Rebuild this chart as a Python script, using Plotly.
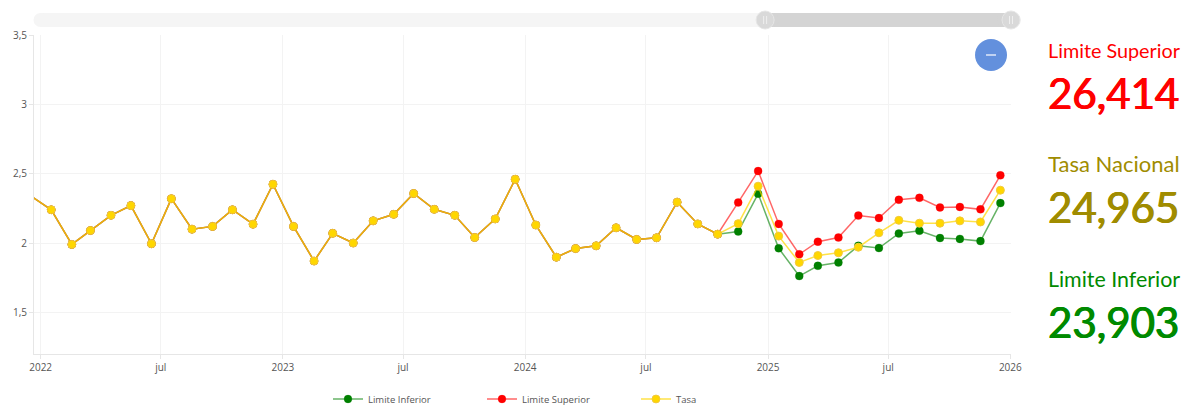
import plotly.graph_objects as go

# Monthly observations, Dec 2021 to Dec 2025
months = [f"{y}-{m:02d}-17" for y in (2022, 2023, 2024, 2025) for m in range(1, 13)]
months = ["2021-12-17"] + months

history = [2.34,
    2.24, 1.99, 2.09, 2.20, 2.27, 1.995, 2.32, 2.10, 2.12, 2.24, 2.136, 2.424,
    2.12, 1.87, 2.07, 2.00, 2.16, 2.207, 2.357, 2.243, 2.20, 2.04, 2.174, 2.46,
    2.13, 1.898, 1.96, 1.98, 2.11, 2.026, 2.038, 2.295, 2.138, 2.064]

tasa_tail = [2.14, 2.41, 2.05, 1.86, 1.91, 1.93, 1.97, 2.074, 2.164, 2.143, 2.143, 2.16, 2.152, 2.381]
sup_tail = [2.293, 2.519, 2.138, 1.919, 2.01, 2.04, 2.198, 2.18, 2.312, 2.326, 2.257, 2.26, 2.243, 2.488]
inf_tail = [2.083, 2.355, 1.962, 1.762, 1.836, 1.86, 1.98, 1.964, 2.069, 2.088, 2.036, 2.03, 2.014, 2.288]

tasa = history + tasa_tail
superior = history + sup_tail
inferior = history + inf_tail

x_ticks = ["2022-01-01", "2022-07-01", "2023-01-01", "2023-07-01", "2024-01-01", "2024-07-01",
           "2025-01-01", "2025-07-01", "2026-01-01"]
x_labels = ["2022", "jul", "2023", "jul", "2024", "jul", "2025", "jul", "2026"]
y_ticks = [1.5, 2, 2.5, 3, 3.5]
y_labels = ["1,5", "2", "2,5", "3", "3,5"]

kpis = [("Limite Superior", "26,414", "#ff0000"),
        ("Tasa Nacional", "24,965", "#a08c00"),
        ("Limite Inferior", "23,903", "#008a00")]
kpi_label_sizes = [19.8, 22, 21.4]

fig = go.Figure()
sizes = [0] + [8] * (len(months) - 1)
series = [("Limite Inferior", inferior, "0,128,0", "#008000", 0.6, "rgba(0,128,0,0.25)"),
          ("Limite Superior", superior, "255,0,0", "#ff0000", 0.6, "rgba(255,0,0,0.25)"),
          ("Tasa", tasa, "255,215,0", "#ffd700", 0.72, "#f2c93c")]
for name, vals, rgb, solid, alpha, edge in series:
    fig.add_trace(go.Scatter(
        x=months, y=vals, name=name, mode="lines+markers",
        line=dict(color=f"rgba({rgb},{alpha})", width=1.5),
        marker=dict(color=solid, size=sizes, opacity=1, line=dict(color=edge, width=1)),
    ))

W, H = 1181, 405
L, R, T, B = 33.5, 1011, 35, 354
def px(v): return (v - L) / (R - L)
def py(v): return (B - v) / (B - T)

def circle(cx, cy, r, fill, line="rgba(0,0,0,0)"):
    return dict(type="circle", xref="paper", yref="paper", x0=px(cx - r), x1=px(cx + r),
                y0=py(cy + r), y1=py(cy - r), fillcolor=fill, line=dict(color=line, width=1))

def pill(x0, x1, y0, y1, color):
    r = (y1 - y0) / 2
    return [dict(type="rect", xref="paper", yref="paper", x0=px(x0 + r), x1=px(x1 - r), y0=py(y1), y1=py(y0),
                 fillcolor=color, line=dict(width=0)),
            dict(type="circle", xref="paper", yref="paper", x0=px(x0), x1=px(x0 + 2 * r), y0=py(y1), y1=py(y0),
                 fillcolor=color, line=dict(width=0)),
            dict(type="circle", xref="paper", yref="paper", x0=px(x1 - 2 * r), x1=px(x1), y0=py(y1), y1=py(y0),
                 fillcolor=color, line=dict(width=0))]

shapes = pill(33, 1021, 13, 27, "#f5f5f5") + pill(765, 1011, 13, 27, "#d4d4d4")
shapes += [circle(765, 20, 9, "#d9d9d9", "#e6e6e6"), circle(1011, 20, 9, "#d9d9d9", "#e6e6e6"),
           circle(991, 55, 16, "#6390dd")]
for hx in (763.5, 766.5, 1009.5, 1012.5):
    shapes.append(dict(type="line", xref="paper", yref="paper", x0=px(hx), x1=px(hx), y0=py(16), y1=py(24),
                       line=dict(color="#efefef", width=1)))
shapes.append(dict(type="line", xref="paper", yref="paper", x0=px(986), x1=px(996), y0=py(55), y1=py(55),
                   line=dict(color="#dfe8f8", width=1.5)))

ann = []
for (label, value, color), size, ly, vy in zip(kpis, kpi_label_sizes, (50.5, 163, 278.5), (93, 207, 322)):
    ann.append(dict(text=label, xref="paper", yref="paper", x=px(1046), y=py(ly), xanchor="left", yanchor="middle",
                    showarrow=False, font=dict(family="Lato", size=size, color=color)))
    ann.append(dict(text=value, xref="paper", yref="paper", x=px(1046), y=py(vy), xanchor="left",
                    yanchor="middle", showarrow=False,
                    font=dict(family="Lato", size=42, color=color,
                              shadow=f"0.6px 0 0 {color}, -0.6px 0 0 {color}")))

fig.update_layout(
    width=W, height=H, margin=dict(l=L, r=W - R, t=T, b=H - B, autoexpand=False),
    paper_bgcolor="white", plot_bgcolor="white",
    font=dict(family="Open Sans", size=10, color="#555"),
    shapes=shapes, annotations=ann, showlegend=True,
    legend=dict(orientation="h", xref="container", yref="container", x=328 / W, xanchor="left",
                y=(H - 384.5) / H, yanchor="top",
                font=dict(size=9.5, color="#555"), itemwidth=30, entrywidth=109),
    xaxis=dict(range=["2021-12-22", "2026-01-02"], tickmode="array", tickvals=x_ticks, ticktext=x_labels,
               showgrid=True, gridcolor="#f3f3f3", gridwidth=1, showline=True, linecolor="#e6e6e6",
               ticks="outside", ticklen=4, tickcolor="#e6e6e6", zeroline=False),
    yaxis=dict(range=[1.2, 3.5], tickmode="array", tickvals=y_ticks, ticktext=y_labels,
               showgrid=True, gridcolor="#f3f3f3", gridwidth=1, showline=True, linecolor="#e6e6e6",
               ticks="outside", ticklen=4, tickcolor="#e6e6e6", zeroline=False),
)
fig.write_html("out.html", config=dict(displayModeBar=False),
               post_script="document.body.style.margin='0';")
